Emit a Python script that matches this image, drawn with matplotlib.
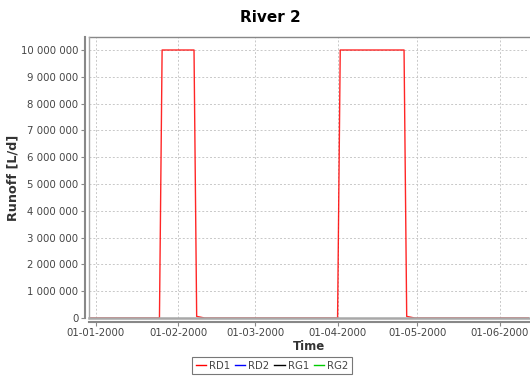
import matplotlib
matplotlib.use("Agg")
import matplotlib.pyplot as plt
import matplotlib.ticker as mticker
from datetime import datetime, timedelta

# ---- data ----
series_names = ["RD1", "RD2", "RG1", "RG2"]
series_colors = ["#ff0000", "#0000ff", "#000000", "#00cc00"]

rd1_dates = ["1999-12-29", "2000-01-25", "2000-01-26", "2000-02-07", "2000-02-08",
             "2000-02-11", "2000-04-01", "2000-04-02", "2000-04-26", "2000-04-27",
             "2000-04-30", "2000-06-12"]
rd1_values = [0, 0, 10000000, 10000000, 60000,
              0, 0, 10000000, 10000000, 60000,
              0, 0]

x_tick_labels = ["01-01-2000", "01-02-2000", "01-03-2000", "01-04-2000", "01-05-2000", "01-06-2000"]
y_ticks = [0, 1000000, 2000000, 3000000, 4000000, 5000000, 6000000, 7000000, 8000000, 9000000, 10000000]

# ---- figure ----
fig = plt.figure(figsize=(5.30, 3.78), dpi=100)
ax = fig.add_axes([89/530, 60/378, 440/530, 281/378])

dates = [datetime.strptime(d, "%Y-%m-%d") for d in rd1_dates]
ax.plot(dates, rd1_values, color=series_colors[0], lw=1.0, zorder=3, alpha=0.85)
handles = [plt.Line2D([], [], color=c, lw=1.0) for c in series_colors]

start = datetime(2000, 1, 1)
ax.set_xlim(start - timedelta(days=2.5), start + timedelta(days=163))
ax.set_ylim(0, 10485000)

xticks = [datetime.strptime(t, "%d-%m-%Y") for t in x_tick_labels]
ax.set_xticks(xticks)
ax.set_xticklabels(x_tick_labels)
ax.set_yticks(y_ticks)
ax.yaxis.set_major_formatter(mticker.FuncFormatter(lambda v, p: f"{int(v):,}".replace(",", " ")))

ax.grid(True, color="#c8c8c8", lw=0.7, linestyle=(0, (2, 2)))
ax.set_axisbelow(True)

gray = "#888888"
ax.spines["top"].set_color(gray)
ax.spines["top"].set_linewidth(1.0)
ax.spines["right"].set_visible(False)
for s in ["left", "bottom"]:
    ax.spines[s].set_position(("outward", 3))
    ax.spines[s].set_color(gray)
    ax.spines[s].set_linewidth(1.5)

# plot-area outline (left / bottom edges)
ax.plot([0, 1], [0, 0], transform=ax.transAxes, color="#a8a8a8", lw=1.8, zorder=4, clip_on=False)
ax.plot([0, 0], [0, 1], transform=ax.transAxes, color="#a8a8a8", lw=1.0, zorder=4, clip_on=False)

ax.tick_params(axis="both", colors=gray, labelcolor="#444444", labelsize=7.3, length=3, width=0.8, pad=1.5)

ax.set_xlabel("Time", fontsize=8.5, fontweight="bold", color="#333333", labelpad=1)
ax.set_ylabel("Runoff [L/d]", fontsize=9.2, fontweight="bold", color="#333333", labelpad=1)
fig.text(0.51, 1 - 18/378, "River 2", ha="center", va="center", fontsize=11, fontweight="bold")

leg = fig.legend(handles, series_names, loc="upper center", bbox_to_anchor=(272/530, 1 - 357/378),
                 ncol=4, fontsize=7.3, frameon=True, fancybox=False, handlelength=1.0,
                 handletextpad=0.3, columnspacing=0.5, borderpad=0.35, borderaxespad=0)
leg.get_frame().set_edgecolor("#555555")
leg.get_frame().set_linewidth(0.8)
for t in leg.get_texts():
    t.set_color("#444444")

fig.savefig("out.png", dpi=100)
